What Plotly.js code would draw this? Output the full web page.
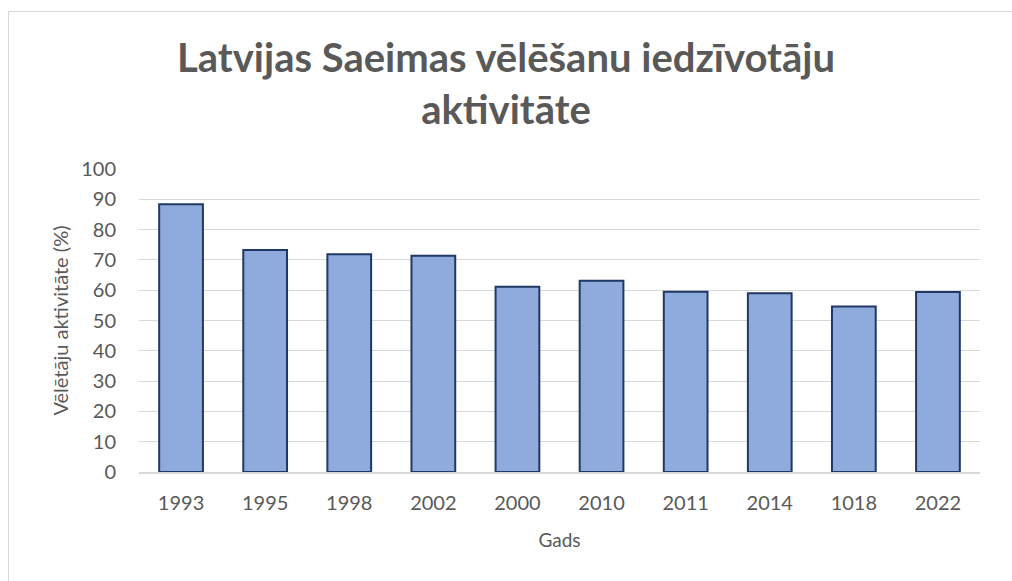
<!DOCTYPE html>
<html>
<head>
<meta charset="utf-8">
<script src="https://cdn.plot.ly/plotly-3.0.1.min.js"></script>
<style>
  html, body { margin: 0; padding: 0; background: #ffffff; }
  #wrap { position: relative; width: 1012px; height: 581px; overflow: hidden; }
  #chart { position: absolute; left: 0; top: 0; width: 1012px; height: 581px; }
  #frame { position: absolute; left: 8px; top: 11px; width: 1020px; height: 600px;
           border: 1px solid #d9d9d9; pointer-events: none; }
</style>
</head>
<body>
<div id="wrap">
  <div id="chart"></div>
  <div id="frame"></div>
</div>
<script>
const categories = ["1993", "1995", "1998", "2002", "2000", "2010", "2011", "2014", "1018", "2022"];
const turnout = [88.4, 73.3, 71.9, 71.4, 61.1, 63.1, 59.5, 59.0, 54.6, 59.4];
const yTicks = [0, 10, 20, 30, 40, 50, 60, 70, 80, 90, 100];

const trace = {
  type: "bar",
  x: categories,
  y: turnout,
  marker: { color: "#8faadc", line: { color: "#1f3864", width: 2 } },
  hoverinfo: "x+y"
};

const layout = {
  width: 1012,
  height: 581,
  paper_bgcolor: "#ffffff",
  plot_bgcolor: "#ffffff",
  margin: { l: 139, r: 32, t: 169, b: 109 },
  bargap: 0.48,
  showlegend: false,
  font: { family: "Lato, 'Open Sans', sans-serif", color: "#595959" },
  title: {
    text: "Latvijas Saeimas vēlēšanu iedzīvotāju<br>aktivitāte",
    font: { family: "Lato, 'Open Sans', sans-serif", size: 40, color: "#595959", weight: "bold" },
    x: 0.5, xanchor: "center",
    y: 0.876, yanchor: "top"
  },
  xaxis: {
    type: "category",
    tickfont: { size: 20, color: "#595959" },
    showgrid: false,
    showline: true, linecolor: "#d9d9d9", linewidth: 1.5,
    ticks: "",
    ticklabelstandoff: 12,
    title: { text: "Gads", font: { size: 19, color: "#595959" }, standoff: 21 }
  },
  yaxis: {
    range: [0, 100],
    tickvals: yTicks,
    ticktext: yTicks.map(String),
    tickfont: { size: 20, color: "#595959" },
    showgrid: true, gridcolor: "#d9d9d9", gridwidth: 1,
    zeroline: false,
    showline: false,
    ticks: "",
    ticklabelstandoff: 22,
    title: { text: "Vēlētāju aktivitāte (%)", font: { size: 20, color: "#595959" }, standoff: 7 }
  }
};

Plotly.newPlot("chart", [trace], layout, { displayModeBar: false, staticPlot: true });
</script>
</body>
</html>
